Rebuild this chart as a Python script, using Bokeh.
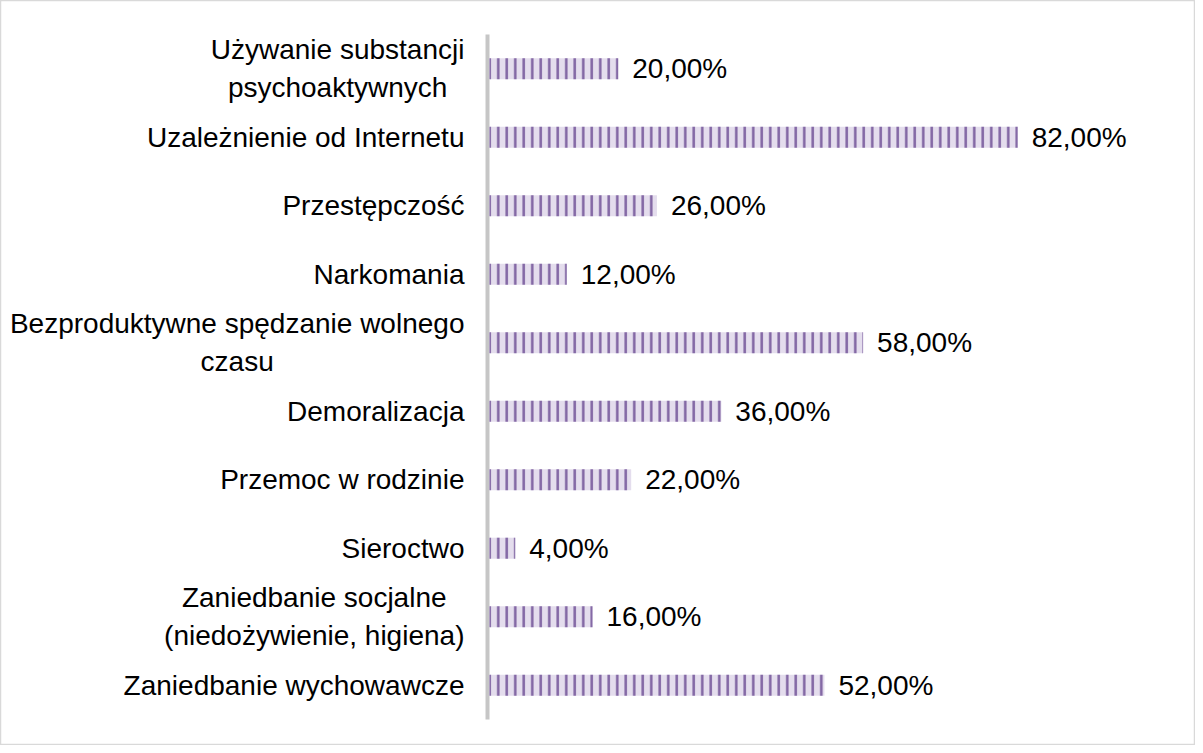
from bokeh.plotting import figure
from bokeh.models import Range1d, ColumnDataSource
from bokeh.core.properties import value
from bokeh.embed import file_html
from bokeh.resources import INLINE

categories = [
    "Używanie substancji\npsychoaktywnych",
    "Uzależnienie od Internetu",
    "Przestępczość",
    "Narkomania",
    "Bezproduktywne spędzanie wolnego\nczasu",
    "Demoralizacja",
    "Przemoc w rodzinie",
    "Sieroctwo",
    "Zaniedbanie socjalne\n(niedożywienie, higiena)",
    "Zaniedbanie wychowawcze",
]
values = [20, 82, 26, 12, 58, 36, 22, 4, 16, 52]
value_labels = [f"{v:.2f}".replace(".", ",") + "%" for v in values]

FONT = value("Liberation Sans")

rows = list(range(len(categories)))
src = ColumnDataSource(dict(y=rows, cat=categories, val=values, lab=value_labels))

p = figure(width=1195, height=745, output_backend="svg", toolbar_location=None,
           x_range=Range1d(-75.9, 109.6), y_range=Range1d(9.88, -0.996),
           min_border=0, min_border_left=0, min_border_right=0,
           min_border_top=0, min_border_bottom=0)
p.axis.visible = False
p.grid.visible = False
p.outline_line_color = "#d9d9d9"
p.outline_line_width = 1.5
p.background_fill_color = "white"
p.border_fill_color = "white"

# vertical axis line
p.segment(x0=[-0.3], x1=[-0.3], y0=[-0.5], y1=[len(categories) - 0.5],
          line_color="#c6c6c6", line_width=4)

p.hbar(y="y", left=0, right="val", height=0.307, source=src,
       fill_color="#e4dded", line_color=None,
       hatch_pattern="vertical_line", hatch_color="#8064a2",
       hatch_weight=2.5, hatch_scale=8.5)

p.text(x=0, y="y", text="cat", source=src, x_offset=-25,
       text_align="center", anchor="center_right", text_baseline="middle",
       text_font=FONT, text_font_size="28px", text_color="black",
       text_line_height=1.22)

p.text(x="val", y="y", text="lab", source=src, x_offset=14,
       text_align="left", text_baseline="middle",
       text_font=FONT, text_font_size="28px", text_color="black")

open("out.html", "w").write(file_html(p, INLINE))
